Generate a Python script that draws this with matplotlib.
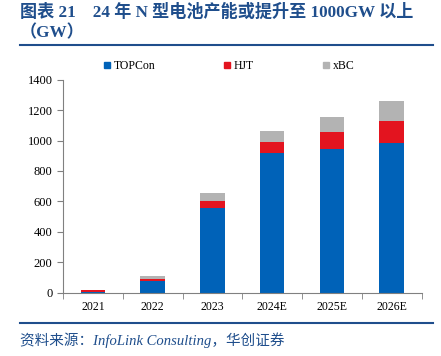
import matplotlib
matplotlib.use("Agg")
import matplotlib.pyplot as plt
import numpy as np
from matplotlib.lines import Line2D

years = ["2021", "2022", "2023", "2024E", "2025E", "2026E"]
topcon = [5, 79, 559, 921, 945, 983]
hjt = [15, 13, 44, 72, 114, 147]
xbc = [0, 20, 55, 71, 95, 127]

blue = "#0062B8"
red = "#E3141F"
grey = "#B3B3B3"
navy = "#1F4E8C"
fam = ["Liberation Serif", "Noto Sans CJK SC"]

fig = plt.figure(figsize=(4.41, 3.56), dpi=100)
ax = fig.add_axes([0.143, 0.178, 0.813, 0.598])

x = np.arange(len(years))
w = 0.41
bottom2 = np.array(topcon)
bottom3 = bottom2 + np.array(hjt)
ax.bar(x, topcon, w, color=blue, label="TOPCon")
ax.bar(x, hjt, w, bottom=bottom2, color=red, label="HJT")
ax.bar(x, xbc, w, bottom=bottom3, color=grey, label="xBC")

ax.set_xlim(-0.5, len(years) - 0.5)
ax.set_ylim(0, 1400)
ax.set_yticks(range(0, 1401, 200))
ax.set_xticks(x)
ax.set_xticklabels(years, family=fam, fontsize=8.5)
ax.set_xticks(np.arange(-0.5, len(years)), minor=True)
ax.tick_params(axis="x", which="major", length=0, pad=6)
ax.tick_params(axis="x", which="minor", length=4, color="#808080", direction="out")
ax.tick_params(axis="y", length=4, color="#808080", direction="out", labelsize=9)
for lab in ax.get_yticklabels():
    lab.set_family(fam)
for s in ["top", "right"]:
    ax.spines[s].set_visible(False)
for s in ["left", "bottom"]:
    ax.spines[s].set_color("#808080")

handles = [Line2D([], [], marker="s", linestyle="none", markersize=5, color=c)
           for c in (blue, red, grey)]
fig.legend(handles, ["TOPCon", "HJT", "xBC"], loc="center left",
           bbox_to_anchor=(0.211, 0.815), ncol=3, frameon=False,
           handlelength=0.6, handletextpad=0.25, columnspacing=5.8,
           prop={"family": fam, "size": 8.5})

fig.text(0.045, 0.965, "图表 21    24 年 N 型电池产能或提升至 1000GW 以上",
         family=fam, fontsize=12.3, fontweight="bold", color=navy, va="center")
fig.text(0.045, 0.908, "（GW）", family=fam, fontsize=12.3,
         fontweight="bold", color=navy, va="center")
fig.add_artist(Line2D([0.045, 0.982], [0.873, 0.873], color=navy, lw=1.5))
fig.add_artist(Line2D([0.045, 0.982], [0.092, 0.092], color=navy, lw=1.5))
fig.text(0.045, 0.045, "资料来源：InfoLink Consulting，华创证券", family=fam,
         fontsize=10.5, style="italic", color=navy, va="center")

fig.savefig("out.png", dpi=100)
